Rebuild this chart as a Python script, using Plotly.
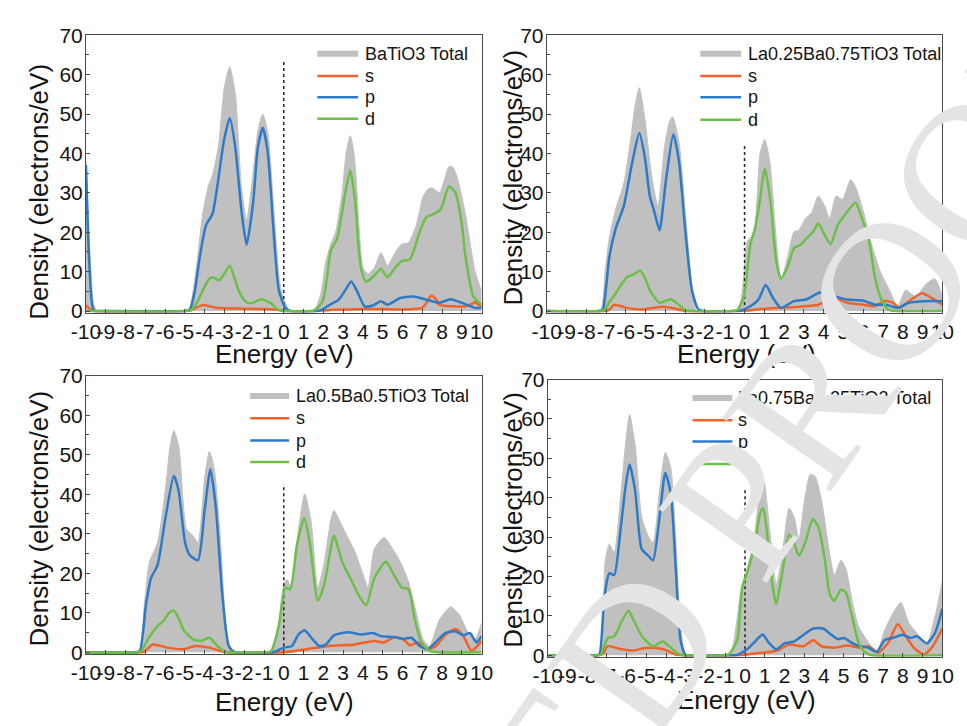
import plotly.graph_objects as go

# ---------------- data: projected density of states (electrons/eV) ----------------
# Panel 1: BaTiO3
E_TOT_1 = [-10, -9.8, -9.6, -9.4, -5.0, -4.75, -4.4, -4.09, -3.8, -3.6, -3.3, -3.0, -2.73, -2.45, -2.15,
           -1.88, -1.6, -1.3, -1.06, -0.8, -0.49, -0.2, 0.0, 0.33, 1.4, 1.64, 1.9, 2.1, 2.37, 2.62, 2.95,
           3.15, 3.36, 3.55, 3.68, 3.85, 4.0, 4.26, 4.58, 4.91, 5.24, 5.65, 5.97, 6.3, 6.71, 7.04, 7.3,
           7.53, 7.86, 8.1, 8.35, 8.55, 8.76, 9.17, 9.66, 10]
TOT_1 = [38, 15, 1.5, 0, 0, 1, 12, 25, 32, 34.5, 42, 57, 62, 55, 32, 23, 33, 46, 50, 45, 25, 7, 3, 0, 0, 1,
         5, 12, 17, 20, 30, 40, 44.5, 40, 32, 18, 11, 9.5, 11, 14.8, 11.5, 15, 17, 17.3, 22, 29, 31, 31.2,
         30, 33, 36.7, 36.5, 34, 25, 10.3, 5]
E_S_1 = [-10, -9.8, -9.6, -5.0, -4.7, -4.1, -3.5, -3.0, -2.0, -1.0, -0.3, 0.0, 1.5, 2.5, 4.0, 5.0, 6.0,
         7.0, 7.2, 7.45, 7.7, 7.86, 8.51, 9.17, 9.5, 9.66, 10]
S_1 = [1.5, 0.5, 0, 0, 0.2, 1.5, 0.9, 0.7, 0.6, 0.5, 0.3, 0, 0, 0.3, 0.5, 0.5, 0.4, 0.8, 2.0, 3.9, 3.0,
       1.6, 1.2, 1.2, 1.8, 2.2, 1.0]
E_P_1 = [-10, -9.85, -9.7, -9.57, -9.3, -5.0, -4.75, -4.5, -4.25, -3.93, -3.6, -3.36, -3.03, -2.73, -2.45,
         -2.13, -1.88, -1.55, -1.31, -1.06, -0.82, -0.49, -0.25, 0.08, 0.33, 1.7, 1.88, 2.3, 2.78, 3.11,
         3.41, 3.68, 4.09, 4.5, 4.91, 5.24, 5.89, 6.55, 7.2, 7.86, 8.43, 9.0, 9.66, 10]
P_1 = [37, 14, 2, 0, 0, 0, 0.3, 5, 13.6, 21.8, 24.7, 31.6, 43.1, 49, 41.5, 25, 16.8, 27.5, 41.5, 46.5,
       40.7, 18.5, 5.3, 0.8, 0, 0, 0.2, 1.5, 2.9, 5.3, 7.5, 5.3, 1.2, 1.4, 2.5, 1.6, 3.3, 3.7, 2.9, 2.1,
       3.0, 2.1, 0.8, 0.8]
E_D_1 = [-10, -4.9, -4.66, -4.35, -4.09, -3.8, -3.6, -3.27, -3.0, -2.73, -2.5, -2.29, -2.0, -1.8, -1.5,
         -1.15, -0.9, -0.65, -0.4, -0.16, 0.1, 1.4, 1.56, 1.97, 2.2, 2.37, 2.7, 3.11, 3.36, 3.6, 3.8, 3.93,
         4.17, 4.58, 4.91, 5.24, 5.65, 5.97, 6.38, 6.87, 7.2, 7.61, 7.94, 8.35, 8.68, 9.0, 9.17, 9.58, 10]
D_1 = [0, 0, 0.3, 2.5, 5.3, 8.0, 8.6, 7.8, 9.5, 11.5, 8.5, 5.3, 2.8, 2.0, 2.2, 3.0, 2.6, 2.0, 0.8, 0.1,
       0, 0, 0.2, 2.5, 9, 15.2, 18.5, 30, 35.7, 28.3, 15, 10.3, 7.4, 9, 10.7, 8.6, 11.1, 12.7, 13.1, 20.1,
       23.8, 24.7, 25.9, 31.6, 30, 22, 14.4, 3.7, 1.6]

# Panel 2: La0.25Ba0.75TiO3
E_TOT_2 = [-10, -7.5, -7.25, -7.05, -6.84, -6.51, -6.1, -5.77, -5.53, -5.32, -5.04, -4.71, -4.38, -4.05,
           -3.8, -3.64, -3.32, -2.99, -2.66, -2.42, -0.5, -0.28, -0.05, 0.13, 0.45, 0.78, 1.02, 1.27, 1.6,
           1.84, 2.17, 2.5, 2.74, 3.07, 3.4, 3.73, 4.05, 4.3, 4.63, 4.95, 5.36, 5.61, 6.02, 6.43, 6.84,
           7.33, 7.74, 8.15, 8.64, 9.21, 9.62, 10]
TOT_2 = [0, 0, 0.5, 10, 18.5, 25.9, 32.5, 43.1, 52.2, 56.7, 48.9, 34.9, 26.7, 41.5, 48, 49.3, 43.1, 25,
         6.2, 0, 0, 0.5, 8, 17.7, 19.3, 39.9, 43.5, 38.2, 18.5, 7.8, 13.6, 20.1, 20.5, 23.4, 25, 29.2,
         26.7, 23.4, 29.2, 28.3, 33.3, 31.6, 25, 16.8, 10.3, 5.3, 1.2, 5.3, 3.7, 7, 8.2, 3.7]
E_S_2 = [-10, -7.0, -6.8, -6.59, -5.94, -5.12, -4.14, -3.5, -2.99, -0.5, 0.0, 1.1, 2.74, 3.73, 4.55, 5.2,
         6.02, 6.59, 7.08, 7.5, 7.82, 8.31, 8.97, 9.46, 10]
S_2 = [0, 0, 0.5, 1.6, 0.8, 0.4, 1.1, 0.6, 0, 0, 0.1, 0.6, 1.1, 1.6, 3.3, 2.1, 1.6, 1.2, 2.6, 2.1, 0.8,
       2.5, 4.5, 3.3, 1.6]
E_P_2 = [-10, -7.4, -7.17, -7.0, -6.84, -6.51, -6.1, -5.69, -5.32, -5.04, -4.79, -4.55, -4.3, -3.97, -3.6,
         -3.32, -2.99, -2.66, -2.33, -2.0, -0.4, -0.2, 0.29, 0.7, 1.07, 1.44, 1.84, 2.5, 3.15, 3.81, 4.22,
         4.71, 5.2, 6.02, 6.59, 7.17, 7.74, 8.31, 9.13, 10]
P_2 = [0, 0, 0.3, 6, 13.6, 21, 26.7, 37.4, 45.2, 39, 29.2, 25, 20.5, 33.3, 44.9, 38.2, 20.1, 5.3, 0.4, 0,
       0, 0.1, 1.2, 2.9, 6.6, 3.3, 0.8, 2.5, 3, 4.7, 4.1, 3.5, 2.9, 2.6, 1.6, 1.6, 0.8, 2.1, 2.5, 2.5]
E_D_2 = [-10, -7.3, -7.08, -6.8, -6.51, -6.2, -5.94, -5.6, -5.28, -5.0, -4.79, -4.3, -3.73, -3.32, -2.99,
         -2.7, -0.6, -0.36, -0.03, 0.29, 0.53, 0.78, 1.02, 1.3, 1.6, 1.84, 2.17, 2.5, 2.83, 3.15, 3.45,
         3.73, 4.05, 4.35, 4.71, 5.12, 5.61, 5.94, 6.27, 6.59, 6.92, 7.25, 7.6, 10]
D_2 = [0, 0, 0.3, 2.5, 4.5, 7, 8.6, 9.3, 10.3, 8, 5.3, 2.1, 3, 1.6, 0.2, 0, 0, 0.3, 3.7, 16.8, 21, 28.3,
       36.2, 28.3, 12.7, 8.2, 11.1, 16, 16.8, 18.5, 20, 22.2, 19.3, 17, 21.8, 24.7, 27.5, 23.4, 18.5, 8.6,
       2.9, 0.4, 0, 0]

# Panel 3: La0.5Ba0.5TiO3
E_TOT_3 = [-10, -7.5, -7.28, -7.05, -6.79, -6.38, -5.97, -5.75, -5.56, -5.35, -5.24, -4.91, -4.58, -4.34,
           -4.0, -3.76, -3.52, -3.19, -2.95, -2.7, -2.46, -0.8, -0.57, -0.25, 0.0, 0.16, 0.41, 0.74, 1.06,
           1.39, 1.72, 2.05, 2.38, 2.54, 2.87, 3.19, 3.6, 4.01, 4.26, 4.58, 5.07, 5.4, 5.89, 6.3, 6.71,
           7.04, 7.37, 7.86, 8.43, 8.84, 9.33, 9.66, 10]
TOT_3 = [0, 0, 0.5, 12, 22.9, 27.8, 41.8, 52, 56.1, 53, 49.1, 31.1, 29.5, 27.8, 44.2, 50.8, 46.7, 27.8,
         8.2, 0.8, 0, 0, 0.5, 8.2, 17.2, 18.4, 16.4, 31.1, 40.1, 32.8, 16.4, 22.9, 33.6, 35.9, 32.8, 29.5,
         25.4, 19.7, 16.4, 26.2, 29.1, 27, 22.9, 18, 9.8, 3.3, 1.6, 8.2, 11.5, 9.8, 4.9, 3.3, 7.4]
E_S_3 = [-10, -7.2, -7.04, -6.63, -5.89, -5.07, -4.5, -3.76, -3.11, -2.8, 0.0, 1.15, 2.29, 3.6, 4.58, 5.07,
         5.56, 6.05, 6.38, 6.79, 7.28, 7.69, 8.18, 8.68, 9.08, 9.49, 10]
S_3 = [0, 0, 0.2, 2.0, 1.2, 0.8, 1.6, 1.2, 0.2, 0, 0, 0.8, 1.6, 2.0, 2.9, 2.5, 3.8, 3.3, 1.8, 2.5, 0.8,
       1.6, 4.5, 5.9, 4.1, 0.4, 2.9]
E_P_3 = [-10, -7.5, -7.28, -6.96, -6.71, -6.38, -5.97, -5.56, -5.32, -4.99, -4.75, -4.34, -4.0, -3.71,
         -3.44, -3.11, -2.78, -2.46, -0.8, -0.49, 0.0, 0.41, 0.74, 1.06, 1.39, 1.8, 2.13, 2.54, 3.28, 3.93,
         4.5, 4.91, 5.56, 6.05, 6.46, 6.87, 7.28, 7.69, 8.18, 8.68, 9.08, 9.41, 9.74, 10]
P_3 = [0, 0, 0.3, 12.3, 18.8, 22.1, 34.4, 44.6, 41, 27.8, 24.6, 23.3, 36, 46.3, 36.9, 14.7, 1.6, 0, 0, 0.1,
       1.2, 1.6, 4.5, 5.6, 3.7, 1.6, 2.0, 4.3, 5.1, 4.5, 4.9, 4.1, 3.9, 3.4, 3.7, 1.6, 0.8, 2.6, 4.9, 5.3,
       4.3, 4.9, 2.5, 4.1]
E_D_3 = [-10, -7.4, -7.2, -6.9, -6.54, -6.3, -6.05, -5.8, -5.56, -5.3, -5.07, -4.58, -4.17, -3.76, -3.36,
         -2.95, -2.7, -0.9, -0.65, -0.25, 0.08, 0.33, 0.66, 1.03, 1.31, 1.72, 2.05, 2.54, 2.95, 3.44, 3.85,
         4.17, 4.58, 5.16, 5.56, 5.97, 6.3, 6.63, 6.96, 7.37, 7.8, 10]
D_3 = [0, 0, 0.3, 3, 5.7, 7, 8.2, 10, 10.6, 8.5, 5.7, 3.3, 2.9, 3.7, 1.6, 0.1, 0, 0, 0.3, 6.6, 16.4, 16,
       27, 34, 27.8, 13.1, 17.2, 29.5, 22.9, 18, 13.9, 11.9, 18.8, 22.9, 19.7, 16.4, 16, 8.2, 2.5, 0.4, 0,
       0]

# Panel 4: La0.75Ba0.25TiO3
E_TOT_4 = [-10, -7.45, -7.29, -7.09, -6.88, -6.63, -6.31, -6.06, -5.85, -5.57, -5.24, -4.91, -4.66, -4.33,
           -4.04, -3.76, -3.51, -3.27, -3.02, -2.85, -0.95, -0.72, -0.23, 0.1, 0.43, 0.76, 0.95, 1.25, 1.58,
           1.9, 2.23, 2.48, 2.73, 2.97, 3.3, 3.55, 3.88, 4.2, 4.53, 4.86, 5.11, 5.43, 5.76, 6.17, 6.67,
           7.08, 7.57, 7.9, 8.31, 8.72, 9.21, 9.62, 10]
TOT_4 = [0, 0, 1, 23.7, 28.2, 26.2, 40.1, 53.3, 61.1, 53.3, 35.2, 30.3, 28.6, 41.8, 51.5, 47.5, 29.4, 7.2,
         0.2, 0, 0, 0.3, 15.5, 22, 28.6, 41.8, 44.1, 31.9, 17.9, 26.2, 37.3, 35.2, 29.4, 37.7, 45.9, 45.4,
         39.3, 28.6, 20.4, 24.1, 22, 13.8, 7.2, 3.9, 0.7, 6.4, 11.3, 13.4, 8.1, 5.6, 3.1, 9.7, 18.8]
E_S_4 = [-10, -7.4, -7.21, -6.96, -6.31, -5.65, -4.99, -4.17, -3.51, -3.2, -0.3, -0.15, 0.92, 1.58, 2.23,
         2.97, 3.46, 3.88, 4.53, 5.19, 5.85, 6.26, 6.75, 7.25, 7.74, 8.15, 8.56, 9.05, 9.46, 10]
S_4 = [0, 0, 0.3, 2.3, 1.6, 1.2, 1.9, 1.6, 0.2, 0, 0, 0.05, 0.7, 1.1, 2.7, 2.3, 3.8, 2.3, 1.9, 2.5, 1.9,
       2.3, 0.7, 3.1, 7.9, 4.8, 1.9, 0.2, 1.9, 6.8]
E_P_4 = [-10, -7.5, -7.37, -7.13, -6.88, -6.63, -6.31, -6.06, -5.85, -5.57, -5.24, -4.91, -4.66, -4.33,
         -4.04, -3.76, -3.51, -3.27, -3.02, -2.8, -0.6, -0.39, 0.1, 0.51, 0.89, 1.22, 1.58, 1.99, 2.48,
         2.97, 3.46, 3.96, 4.37, 4.7, 5.02, 5.43, 5.85, 6.26, 6.67, 7.08, 7.49, 7.98, 8.39, 8.72, 9.21,
         9.62, 10]
P_4 = [0, 0, 0.3, 14.6, 20.8, 20.4, 31.9, 42.6, 48.4, 41.8, 27, 25.3, 24.1, 35.2, 46.3, 41, 22, 3.9, 0, 0,
       0, 0.1, 1.5, 3.5, 5.3, 3.1, 1.5, 3, 3.5, 5.2, 6.8, 6.8, 5.2, 4.1, 4.4, 3.1, 2.3, 1.9, 0.8, 3.9, 4.4,
       5.2, 4.4, 4.8, 3, 5.6, 11.8]
E_D_4 = [-10, -7.45, -7.29, -6.96, -6.63, -6.22, -5.9, -5.57, -5.16, -4.66, -4.17, -3.76, -3.35, -3.1,
         -1.0, -0.8, -0.39, -0.15, 0.18, 0.51, 0.76, 0.92, 1.17, 1.41, 1.58, 1.87, 2.23, 2.48, 2.73, 3.05,
         3.43, 3.71, 4.04, 4.29, 4.53, 4.86, 5.11, 5.43, 5.76, 6.09, 6.42, 10]
D_4 = [0, 0, 0.3, 4.4, 4.8, 8.9, 11.3, 8.1, 4.4, 2.3, 3.5, 1.9, 0.2, 0, 0, 0.3, 3.9, 17.1, 22, 28.6, 36,
       37.3, 28.6, 17.1, 13, 20.4, 30.7, 28.6, 25.3, 28.6, 34.5, 32.7, 24.5, 15.5, 13.8, 16.7, 15.9, 9.7,
       3.1, 0.7, 0, 0]

COMPOUNDS = ["BaTiO3", "La0.25Ba0.75TiO3", "La0.5Ba0.5TiO3", "La0.75Ba0.25TiO3"]
FERMI_TOP = [63.7, 42.0, 42.6, 42.6]     # height of the dotted Fermi-level marker
X_TICKS = list(range(-10, 11))
Y_TICKS = list(range(0, 71, 10))

PANELS = [
    (E_TOT_1, TOT_1, E_S_1, S_1, E_P_1, P_1, E_D_1, D_1),
    (E_TOT_2, TOT_2, E_S_2, S_2, E_P_2, P_2, E_D_2, D_2),
    (E_TOT_3, TOT_3, E_S_3, S_3, E_P_3, P_3, E_D_3, D_3),
    (E_TOT_4, TOT_4, E_S_4, S_4, E_P_4, P_4, E_D_4, D_4),
]

# ---------------- styling / layout ----------------
W, H = 967, 726
FONT = "Liberation Sans, Arial, sans-serif"
GRAY = "#c0c0c0"
COL_S, COL_P, COL_D = "#f0642a", "#2d7bc8", "#6cbf47"
TEXT = "#141414"

# plot boxes in pixels: (left, top, right, bottom)
BOXES = [(73, 24, 480, 310), (547, 24, 954, 310), (73, 375, 480, 662), (548, 379, 954, 665)]
# legend key layout inside each box, in pixels from the box's top-left corner:
# (key line start, key line end, text start, [row centres])
LEGEND_BOX = [(238, 280, 285, [19, 42, 64, 86]),
              (158, 200, 205, [19, 42, 64, 87]),
              (169, 209, 214, [21, 44, 67, 89]),
              (149, 190, 194, [19, 42, 64, 87])]
# axis-title centres in pixels: (x-title x, x-title y, y-title x, y-title y)
TITLE_POS = [(277, 353, 25, 185), (752, 353, 512, 171), (277, 712, 25, 522), (752, 710, 512, 524)]

fig = go.Figure()
layout = dict(
    width=W, height=H, margin=dict(l=0, r=0, t=0, b=0),
    paper_bgcolor="white", plot_bgcolor="white", showlegend=False,
    font=dict(family=FONT, color=TEXT), annotations=[], shapes=[],
)

for i, (panel, name, ftop) in enumerate(zip(PANELS, COMPOUNDS, FERMI_TOP)):
    k = i + 1
    xa, ya = ("x%d" % k if k > 1 else "x"), ("y%d" % k if k > 1 else "y")
    e_t, tot, e_s, s, e_p, p, e_d, d = panel

    fig.add_trace(go.Scatter(x=e_t, y=tot, mode="lines", name=name + " Total",
                             line=dict(color=GRAY, width=1, shape="spline", smoothing=0.6),
                             fill="tozeroy", fillcolor=GRAY, xaxis=xa, yaxis=ya))
    fig.add_trace(go.Scatter(x=[0, 0], y=[0, ftop], mode="lines", name="E_F",
                             line=dict(color="#222", width=1.5, dash="dot"), xaxis=xa, yaxis=ya,
                             hoverinfo="skip"))
    for ex, ey, lab, col in ((e_s, s, "s", COL_S), (e_p, p, "p", COL_P), (e_d, d, "d", COL_D)):
        fig.add_trace(go.Scatter(x=ex, y=ey, mode="lines", name=lab,
                                 line=dict(color=col, width=2.5, shape="spline", smoothing=0.6),
                                 xaxis=xa, yaxis=ya))

    l, t, r, b = BOXES[i]
    bw, bh = r - l, b - t
    axis_common = dict(showline=True, mirror=True, linecolor="#4a4a4a", linewidth=1, showgrid=False,
                       zeroline=False, ticks="inside", tickcolor="#4a4a4a", tickangle=0,
                       tickfont=dict(family=FONT, size=21, color=TEXT))
    layout["xaxis%d" % k if k > 1 else "xaxis"] = dict(
        axis_common, domain=[l / W, r / W], anchor=ya, range=[-10, 10], tickmode="array",
        tickvals=X_TICKS, ticktext=[str(v) for v in X_TICKS], ticklen=4)
    layout["yaxis%d" % k if k > 1 else "yaxis"] = dict(
        axis_common, domain=[1 - b / H, 1 - t / H], anchor=xa, range=[-0.4, 70], tickmode="array",
        tickvals=Y_TICKS, ticklen=4, ticklabelstandoff=-2,
        minor=dict(ticks="inside", dtick=5, ticklen=3, tickcolor="#4a4a4a"))

    # Origin-style legend block: key line + label for each curve
    k0, k1, tx0, rows = LEGEND_BOX[i]
    entries = [(name + " Total", GRAY, 6), ("s", COL_S, 2.5), ("p", COL_P, 2.5), ("d", COL_D, 2.5)]
    for (label, col, lw), ry in zip(entries, rows):
        yy = 1 - ry / bh
        layout["shapes"].append(dict(type="line", xref=xa + " domain", yref=ya + " domain",
                                     x0=k0 / bw, x1=k1 / bw, y0=yy, y1=yy,
                                     line=dict(color=col, width=lw)))
        layout["annotations"].append(dict(text=label, xref=xa + " domain", yref=ya + " domain",
                                          x=tx0 / bw, y=yy, xanchor="left", yanchor="middle",
                                          showarrow=False, font=dict(family=FONT, size=18, color=TEXT)))

    tx, ty, yx, yy = TITLE_POS[i]
    layout["annotations"] += [
        dict(text="Energy (eV)", x=tx / W, y=1 - ty / H, xref="paper", yref="paper", showarrow=False,
             xanchor="center", yanchor="middle", font=dict(family=FONT, size=26, color=TEXT)),
        dict(text="Density (electrons/eV)", x=yx / W, y=1 - yy / H, xref="paper", yref="paper",
             showarrow=False, textangle=-90, xanchor="center", yanchor="middle",
             font=dict(family=FONT, size=26, color=TEXT)),
    ]

# proof watermark stamped diagonally across the sheet
layout["annotations"].append(dict(
    text="UNCORRECTED PROOF", x=452 / W, y=1 - 928 / H, xref="paper", yref="paper", showarrow=False,
    textangle=-55, xanchor="center", yanchor="middle",
    font=dict(family="Liberation Serif, Times New Roman, serif", size=200, color="#e4e4e4")))

fig.update_layout(**layout)
fig.write_html("out.html")
